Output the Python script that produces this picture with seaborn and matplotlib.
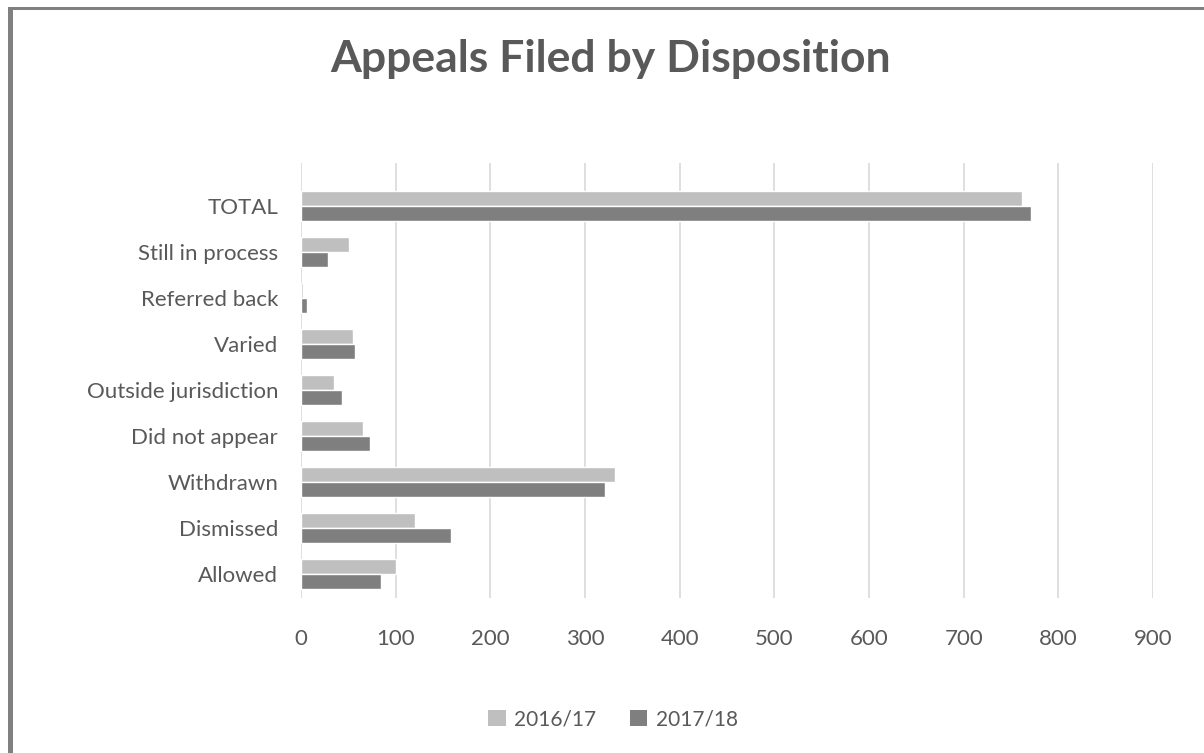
import pandas as pd
import matplotlib.pyplot as plt
import seaborn as sns
from matplotlib.patches import Rectangle, Patch

# Data
categories = ['TOTAL', 'Still in process', 'Referred back', 'Varied',
              'Outside jurisdiction', 'Did not appear', 'Withdrawn',
              'Dismissed', 'Allowed']
years = ['2016/17', '2017/18']
values_1617 = [762, 51, 2, 55, 35, 66, 332, 120, 100]
values_1718 = [771, 28, 6, 57, 43, 73, 321, 158, 85]

colors = ['#BFBFBF', '#7F7F7F']
text_color = '#595959'

sns.set_style("white")
plt.rcParams['font.family'] = ['Lato', 'DejaVu Sans']

df = pd.DataFrame({
    'category': categories * 2,
    'year': [years[0]] * len(categories) + [years[1]] * len(categories),
    'value': values_1617 + values_1718,
})

fig = plt.figure(figsize=(12.04, 7.53), dpi=100)
ax = fig.add_axes([0.25, 0.2058, 0.7077, 0.5777])

sns.barplot(data=df, y='category', x='value', hue='year', order=categories,
            hue_order=years, palette=colors, orient='h', width=0.66,
            saturation=1, ax=ax, legend=False)

ax.set_xlim(0, 900)
ax.set_ylim(8.52, -0.935)
ax.set_xticks(range(0, 1000, 100))
ax.xaxis.grid(True, color='#D9D9D9', linewidth=1.2)
ax.set_axisbelow(True)
for s in ax.spines.values():
    s.set_visible(False)
ax.set_xlabel('')
ax.set_ylabel('')
ax.tick_params(axis='both', length=0, labelsize=16, labelcolor=text_color)
ax.tick_params(axis='x', pad=22)
ax.tick_params(axis='y', pad=16.5)

fig.text(0.507, 0.921, 'Appeals Filed by Disposition', ha='center', va='center',
         fontsize=32, fontweight='bold', color=text_color)

handles = [Patch(facecolor=c, edgecolor='none', label=y) for c, y in zip(colors, years)]
fig.legend(handles=handles, loc='center', bbox_to_anchor=(0.509, 0.045), ncol=2,
           frameon=False, fontsize=15, labelcolor=text_color, handlelength=0.85,
           handleheight=0.85, handletextpad=0.4, columnspacing=1.6)

# chart frame (only top and left edges visible in the crop)
W, H = 1204, 753
fig.add_artist(Rectangle((8 / W, 0), 5 / W, 1 - 7 / H, transform=fig.transFigure,
                         facecolor='#808080', edgecolor='none'))
fig.add_artist(Rectangle((8 / W, 1 - 10 / H), 1, 3 / H, transform=fig.transFigure,
                         facecolor='#808080', edgecolor='none'))

fig.savefig('out.png', dpi=100)
